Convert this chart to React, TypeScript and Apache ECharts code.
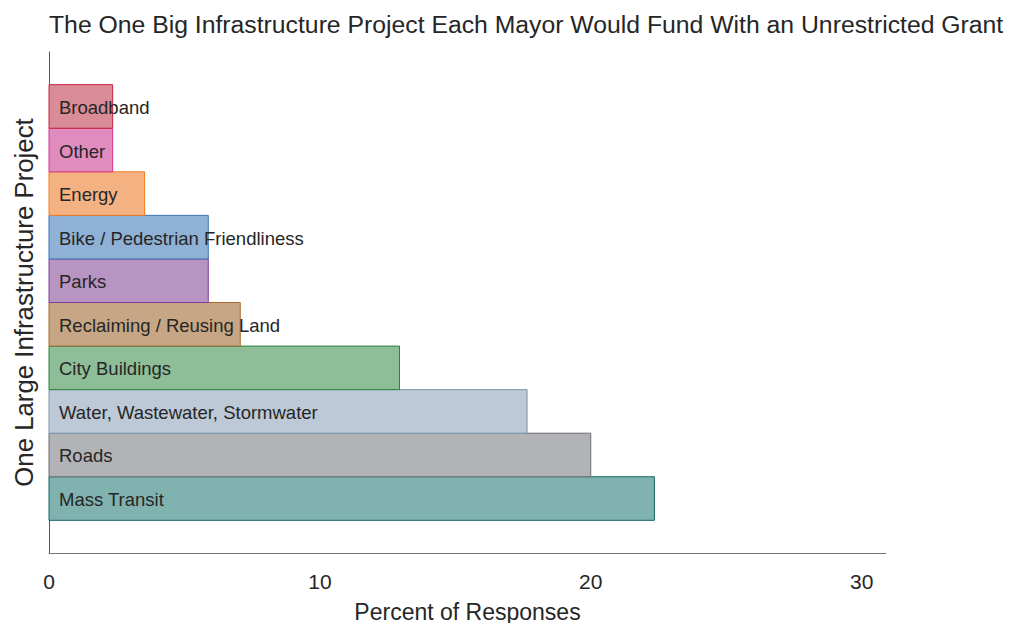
import React, { useEffect, useRef } from "react";
import * as echarts from "echarts";

// Categories from bottom (index 0) to top
const categories = [
  "Mass Transit",
  "Roads",
  "Water, Wastewater, Stormwater",
  "City Buildings",
  "Reclaiming / Reusing Land",
  "Parks",
  "Bike / Pedestrian Friendliness",
  "Energy",
  "Other",
  "Broadband",
];
const percents = [22.35, 20.0, 17.65, 12.94, 7.06, 5.88, 5.88, 3.53, 2.35, 2.35];
const fillColors = [
  "#80b3af",
  "#b2b3b6",
  "#bdc9d6",
  "#8dbe97",
  "#c6a684",
  "#b894c3",
  "#8fb1d6",
  "#f4b283",
  "#e18cbf",
  "#d98c95",
];
const edgeColors = [
  "#0e6661",
  "#6e6f72",
  "#7a96b0",
  "#2d8040",
  "#a66a2b",
  "#7f3f98",
  "#3c75b4",
  "#f07a1e",
  "#d4338f",
  "#c8203a",
];
const xTicks = [0, 10, 20, 30];

const FONT = "'Liberation Sans', Arial, Helvetica, sans-serif";

export default function App() {
  const ref = useRef<HTMLDivElement>(null);
  useEffect(() => {
    if (!ref.current) return;
    const chart = echarts.init(ref.current, null, { renderer: "svg", width: 1016, height: 623 });
    const data = percents.map((v, i) => [v, i, categories[i]]);
    chart.setOption({
      animation: false,
      backgroundColor: "#ffffff",
      textStyle: { fontFamily: FONT },
      title: {
        text: "The One Big Infrastructure Project Each Mayor Would Fund With an Unrestricted Grant",
        left: 49,
        top: 12,
        padding: 0,
        textStyle: { fontFamily: FONT, fontSize: 24.75, fontWeight: "normal", color: "#262626" },
      },
      grid: {
        left: 49,
        top: 52,
        width: 837,
        height: 501,
        containLabel: false,
        outerBoundsMode: "none",
      },
      xAxis: {
        type: "value",
        min: 0,
        max: 30.9,
        interval: 10,
        name: "Percent of Responses",
        nameLocation: "middle",
        nameGap: 47,
        nameTextStyle: { fontFamily: FONT, fontSize: 23, color: "#262626" },
        axisLine: { show: true, onZero: false, lineStyle: { color: "#777", width: 1 } },
        axisTick: { show: false },
        splitLine: { show: false },
        axisLabel: {
          margin: 18,
          fontFamily: FONT,
          fontSize: 21,
          color: "#262626",
          formatter: (v: number) => (xTicks.indexOf(v) >= 0 ? String(v) : ""),
        },
      },
      yAxis: {
        type: "value",
        min: -1.25,
        max: 10.25,
        name: "One Large Infrastructure Project",
        nameLocation: "middle",
        nameRotate: 90,
        nameGap: 12,
        nameTextStyle: { fontFamily: FONT, fontSize: 25.8, color: "#262626" },
        axisLine: { show: true, onZero: false, lineStyle: { color: "#555", width: 1 } },
        axisTick: { show: false },
        axisLabel: { show: false },
        splitLine: { show: false },
      },
      series: [
        {
          type: "custom",
          encode: { x: 0, y: 1 },
          data,
          renderItem: (params: any, api: any) => {
            const val = api.value(0);
            const idx = api.value(1);
            const start = api.coord([0, idx]);
            const end = api.coord([val, idx]);
            const h = api.size([0, 1])[1];
            return {
              type: "group",
              children: [
                {
                  type: "rect",
                  shape: { x: start[0], y: start[1] - h / 2, width: end[0] - start[0], height: h },
                  style: { fill: fillColors[idx], stroke: edgeColors[idx], lineWidth: 1 },
                  z2: 1,
                },
                {
                  type: "text",
                  x: start[0] + 10,
                  y: start[1] + 1,
                  z2: 10,
                  style: {
                    text: categories[idx],
                    fill: "#262626",
                    font: `18.5px ${FONT}`,
                    verticalAlign: "middle",
                    align: "left",
                  },
                },
              ],
            };
          },
        },
      ],
    });
    return () => chart.dispose();
  }, []);
  return (
    <div
      ref={ref}
      style={{ position: "fixed", left: 0, top: 0, width: 1016, height: 623, background: "#fff" }}
    />
  );
}
